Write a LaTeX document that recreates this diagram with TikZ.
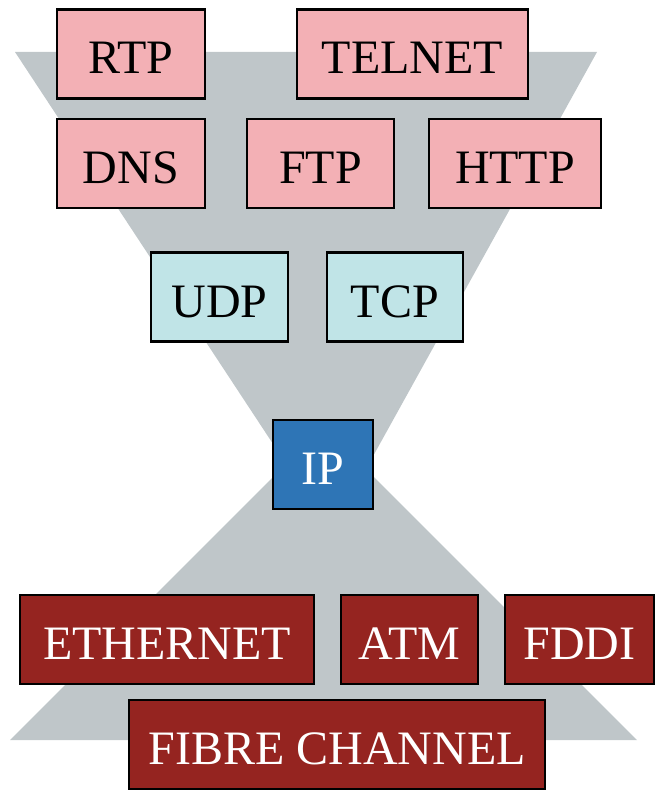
\documentclass[tikz,border=0pt]{standalone}
\usepackage{fontspec}
\setmainfont{Liberation Serif}
\definecolor{funnelgrey}{RGB}{191,198,201}
\definecolor{apppink}{RGB}{243,176,181}
\definecolor{transcyan}{RGB}{192,228,231}
\definecolor{ipblue}{RGB}{46,117,182}
\definecolor{linkred}{RGB}{149,36,32}
\begin{document}
\begin{tikzpicture}[x=1pt,y=-1pt,
  layer/.style={draw=black, line width=2.4pt, inner sep=0pt,
    font=\fontsize{48}{56}\selectfont, text height=40pt, text depth=0pt,
    minimum height=89pt},
  app/.style={layer, fill=apppink, text=black},
  transport/.style={layer, fill=transcyan, text=black},
  network/.style={layer, fill=ipblue, text=white},
  link/.style={layer, fill=linkred, text=white}]
\useasboundingbox (0,0) rectangle (656,792);

% hourglass background
\fill[funnelgrey] (15,52) -- (597,52) -- (331,532) -- cycle;
\fill[funnelgrey] (323.5,426.5) -- (637,740) -- (10,740) -- cycle;

% application layer
\node[app, minimum width=148pt] (rtp) at (131,54) {RTP};
\node[app, minimum width=231pt] (telnet) at (412.5,54) {TELNET};
\node[app, minimum width=148pt] (dns) at (131,163.5) {DNS};
\node[app, minimum width=147pt] (ftp) at (320.5,163.5) {FTP};
\node[app, minimum width=172pt] (http) at (515,163.5) {HTTP};

% transport layer
\node[transport, minimum width=137pt] (udp) at (219.5,297) {UDP};
\node[transport, minimum width=136pt] (tcp) at (395,297) {TCP};

% network layer
\node[network, minimum width=100pt] (ip) at (323,464.5) {IP};

% link layer
\node[link, minimum width=294pt] (ethernet) at (167,639.5) {ETHERNET};
\node[link, minimum width=137pt] (atm) at (409.5,639.5) {ATM};
\node[link, minimum width=149pt] (fddi) at (579.5,639.5) {FDDI};
\node[link, minimum width=416pt] (fibre) at (337,744.5) {FIBRE CHANNEL};
\end{tikzpicture}
\end{document}
